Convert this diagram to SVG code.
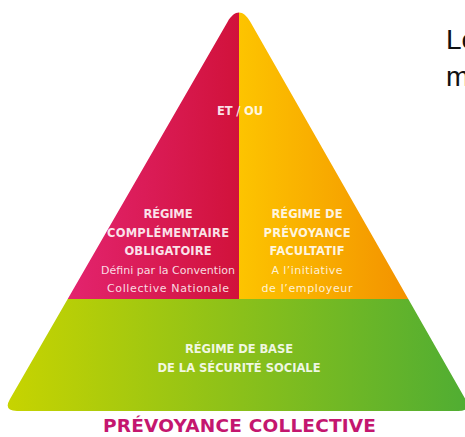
<svg xmlns="http://www.w3.org/2000/svg" width="465" height="437" viewBox="0 0 465 437">
  <style>
    .b { font-family: "DejaVu Sans", "Liberation Sans", sans-serif; font-weight: bold; font-size: 11.5px; fill: #ffffff; fill-opacity: 0.88; text-anchor: middle; }
    .r { font-family: "DejaVu Sans", "Liberation Sans", sans-serif; font-size: 11px; fill: #ffffff; fill-opacity: 0.85; text-anchor: middle; }
    .title { font-family: "DejaVu Sans", "Liberation Sans", sans-serif; font-weight: bold; font-size: 18.5px; fill: #c4166f; text-anchor: middle; }
    .side { font-family: "Liberation Sans", Arial, sans-serif; font-size: 28px; fill: #111111; }
  </style>
  <defs>
    <linearGradient id="gPink" x1="67" y1="0" x2="239" y2="0" gradientUnits="userSpaceOnUse">
      <stop offset="0" stop-color="#e3246f"/>
      <stop offset="1" stop-color="#d1123b"/>
    </linearGradient>
    <linearGradient id="gYellow" x1="239" y1="0" x2="412" y2="0" gradientUnits="userSpaceOnUse">
      <stop offset="0" stop-color="#fdc400"/>
      <stop offset="1" stop-color="#f39100"/>
    </linearGradient>
    <linearGradient id="gGreen" x1="3" y1="0" x2="470" y2="0" gradientUnits="userSpaceOnUse">
      <stop offset="0" stop-color="#c8d400"/>
      <stop offset="1" stop-color="#4fad33"/>
    </linearGradient>
    <clipPath id="tri">
      <path d="M227.5,21.9 C235,9.5 243,9.5 250.4,22 L465.1,398.8 Q472,411 458,411 L17,411 Q3,411 10,398.9 Z"/>
    </clipPath>
  </defs>

  <g id="regime-complementaire">
    <rect x="0" y="0" width="239" height="299" fill="url(#gPink)" clip-path="url(#tri)"/>
    <text class="b" x="168" y="218" textLength="49">RÉGIME</text>
    <text class="b" x="168" y="236.5" textLength="122">COMPLÉMENTAIRE</text>
    <text class="b" x="168" y="255" textLength="87">OBLIGATOIRE</text>
    <text class="r" x="168" y="273.5" textLength="134">Défini par la Convention</text>
    <text class="r" x="168" y="292" textLength="122">Collective Nationale</text>
  </g>

  <g id="regime-facultatif">
    <rect x="239" y="0" width="226" height="299" fill="url(#gYellow)" clip-path="url(#tri)"/>
    <text class="b" x="307" y="218" textLength="71">RÉGIME DE</text>
    <text class="b" x="307" y="236.5" textLength="87">PRÉVOYANCE</text>
    <text class="b" x="307" y="255" textLength="75">FACULTATIF</text>
    <text class="r" x="307" y="273.5" textLength="71">A l’initiative</text>
    <text class="r" x="307" y="292" textLength="91">de l’employeur</text>
  </g>

  <g id="et-ou">
    <text class="b" x="240" y="114.5" textLength="46">ET / OU</text>
  </g>

  <g id="regime-base">
    <rect x="0" y="299" width="465" height="138" fill="url(#gGreen)" clip-path="url(#tri)"/>
    <text class="b" x="239" y="353" textLength="108">RÉGIME DE BASE</text>
    <text class="b" x="239" y="372" textLength="163">DE LA SÉCURITÉ SOCIALE</text>
  </g>

  <g id="title">
    <text class="title" x="239.5" y="432" textLength="273">PRÉVOYANCE COLLECTIVE</text>
  </g>

  <g id="side-text">
    <text class="side" x="446" y="49">Le</text>
    <text class="side" x="446" y="86">m</text>
  </g>

  <g id="connectors"/>
</svg>
